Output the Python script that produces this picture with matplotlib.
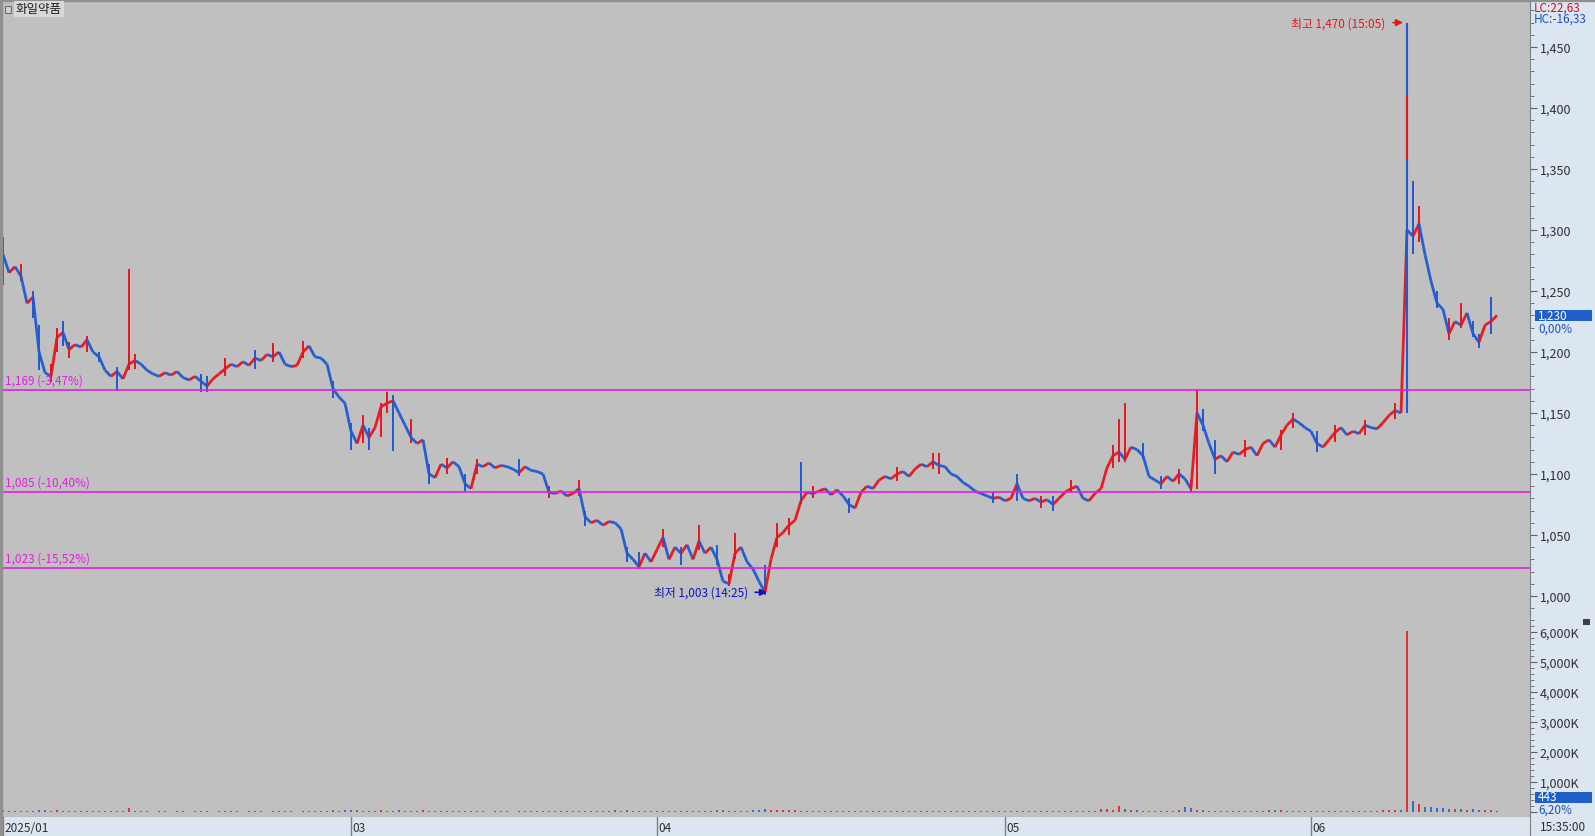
import numpy as np
import matplotlib.pyplot as plt
from matplotlib.collections import LineCollection
from matplotlib.ticker import FuncFormatter, MultipleLocator

plt.rcParams['font.family'] = ['Noto Sans CJK KR', 'DejaVu Sans']

# closing prices, one point per ~6px of the chart
close = [
    # Jan-Feb
    1280, 1265, 1270, 1262, 1240, 1245, 1200, 1183, 1180, 1212,
    1216, 1202, 1206, 1204, 1210, 1200, 1196, 1185, 1180, 1184,
    1178, 1190, 1193, 1190, 1185, 1182, 1180, 1183, 1181, 1184,
    1179, 1177, 1180, 1176, 1172, 1178, 1182, 1186, 1190, 1188,
    1192, 1189, 1195, 1193, 1198, 1196, 1200, 1190, 1188, 1189,
    1200, 1205, 1196, 1195, 1190, 1170, 1163, 1158,
    # Mar
    1135, 1125, 1140, 1130, 1138, 1155, 1158, 1160, 1150, 1140,
    1130, 1125, 1128, 1100, 1097, 1108, 1105, 1110, 1106, 1092,
    1088, 1108, 1106, 1109, 1105, 1107, 1106, 1104, 1101, 1106,
    1103, 1102, 1100, 1085, 1084, 1086, 1082, 1084, 1088, 1065,
    1060, 1062, 1058, 1061, 1060, 1055, 1035, 1030, 1024, 1035,
    1028,
    # Apr
    1038, 1048, 1030, 1040, 1035, 1042, 1030, 1045, 1035, 1040,
    1030, 1012, 1010, 1035, 1040, 1028, 1022, 1012, 1003, 1030,
    1048, 1052, 1058, 1062, 1078, 1085, 1084, 1086, 1088, 1083,
    1087, 1082, 1075, 1072, 1085, 1090, 1088, 1095, 1098, 1096,
    1100, 1102, 1098, 1104, 1108, 1106, 1110, 1107, 1106, 1100,
    1098, 1093, 1090, 1086, 1084, 1082, 1080, 1081, 1078,
    # May
    1080, 1092, 1080, 1078, 1080, 1077, 1079, 1075, 1080, 1085,
    1088, 1090, 1080, 1078, 1084, 1088, 1105, 1115, 1118, 1112,
    1122, 1120, 1115, 1098, 1095, 1092, 1098, 1094, 1100, 1096,
    1088, 1150, 1140, 1125, 1112, 1115, 1110, 1118, 1116, 1120,
    1122, 1115, 1125, 1128, 1122, 1132, 1140, 1145, 1142, 1138,
    # Jun
    1135, 1125, 1122, 1128, 1134, 1138, 1132, 1135, 1133, 1140,
    1138, 1137, 1142, 1148, 1152, 1150, 1300, 1295, 1305, 1280,
    1258, 1240, 1235, 1215, 1225, 1222, 1232, 1215, 1208, 1222,
    1225, 1230,
]

# volume in thousands of shares
volume = [
    60, 40, 35, 30, 45, 25, 70, 55, 40, 50,
    35, 30, 25, 20, 30, 25, 20, 40, 35, 20,
    25, 120, 40, 25, 20, 15, 20, 25, 15, 20,
    20, 15, 25, 30, 20, 15, 20, 25, 30, 20,
    15, 20, 25, 20, 15, 30, 20, 25, 20, 15,
    25, 35, 20, 25, 30, 60, 45, 50,
    70, 60, 45, 40, 35, 50, 40, 45, 55, 40,
    35, 30, 60, 40, 25, 20, 25, 20, 35, 30,
    25, 20, 20, 15, 20, 25, 20, 15, 20, 25,
    20, 40, 30, 25, 20, 25, 30, 45, 35, 30,
    25, 25, 20, 30, 55, 45, 50, 40, 35, 45,
    40,
    40, 45, 35, 40, 35, 45, 40, 35, 40, 35,
    60, 55, 45, 40, 35, 40, 60, 80, 90, 70,
    65, 55, 50, 60, 45, 35, 30, 25, 30, 35,
    30, 45, 35, 30, 25, 30, 25, 30, 25, 20,
    30, 25, 20, 35, 25, 30, 25, 20, 25, 30,
    25, 20, 25, 30, 20, 25, 20, 25, 30,
    25, 45, 30, 25, 20, 25, 30, 25, 30, 35,
    40, 30, 25, 35, 40, 90, 110, 80, 200, 90,
    60, 50, 40, 35, 40, 35, 30, 45, 60, 150,
    120, 80, 60, 45, 40, 35, 40, 45, 35, 40,
    45, 40, 35, 50, 55, 60, 45, 40, 35, 30,
    35, 40, 35, 30, 35, 40, 35, 30, 35, 40,
    35, 45, 50, 55, 60, 70,
    6050, 350, 250, 180, 150, 120, 140, 110, 90, 100,
    80, 90, 70, 60, 55, 40,
]

# wicks: bar index, high, low, up(1)/down(0)
wick_idx = [0, 3, 5, 6, 8, 9, 10, 11, 14, 16, 19, 21, 22, 33, 34, 37, 42, 45, 50, 55,
            58, 60, 61, 63, 64, 65, 68, 71, 74, 77, 79, 86, 91, 96, 97, 104, 106,
            110, 113, 116, 119, 121, 122, 127, 129, 131, 133, 135, 141, 149, 155, 156, 165,
            169, 173, 175, 178, 185, 186, 187, 190, 193, 196, 198, 199, 200, 202, 207, 213, 215,
            219, 222, 227, 232, 235, 236, 239, 241, 243, 245, 246, 248]
wick_hi = [1294, 1272, 1250, 1222, 1190, 1220, 1225, 1208, 1213, 1200, 1188, 1268, 1198, 1182, 1180, 1195, 1202, 1207, 1209, 1176,
           1142, 1148, 1138, 1158, 1167, 1165, 1145, 1108, 1113, 1100, 1112, 1112, 1090, 1095, 1070, 1040, 1036,
           1055, 1040, 1058, 1042, 1018, 1052, 1025, 1060, 1064, 1110, 1090, 1080, 1106, 1117, 1117, 1085,
           1100, 1082, 1082, 1095, 1124, 1145, 1158, 1125, 1098, 1104, 1095, 1170, 1153, 1128, 1128, 1136, 1150,
           1135, 1140, 1144, 1158, 1340, 1320, 1250, 1228, 1240, 1225, 1215, 1245]
wick_lo = [1255, 1258, 1228, 1185, 1175, 1200, 1205, 1195, 1200, 1192, 1168, 1185, 1186, 1167, 1167, 1180, 1186, 1192, 1195, 1162,
           1120, 1125, 1120, 1130, 1150, 1119, 1125, 1092, 1100, 1085, 1100, 1098, 1080, 1082, 1057, 1028, 1022,
           1040, 1025, 1038, 1025, 1008, 1030, 1001, 1040, 1050, 1075, 1080, 1068, 1094, 1104, 1100, 1076,
           1078, 1072, 1070, 1085, 1105, 1110, 1110, 1112, 1088, 1092, 1085, 1088, 1135, 1100, 1114, 1120, 1138,
           1118, 1126, 1132, 1145, 1280, 1290, 1236, 1210, 1220, 1212, 1203, 1215]
wick_up = [0, 1, 0, 0, 1, 1, 0, 1, 1, 0, 0, 1, 1, 0, 0, 1, 0, 1, 1, 0,
           0, 1, 0, 1, 1, 0, 1, 0, 1, 0, 1, 0, 1, 1, 0, 0, 0,
           1, 0, 1, 0, 1, 1, 0, 1, 1, 0, 1, 0, 1, 1, 1, 0,
           0, 1, 0, 1, 1, 1, 1, 0, 0, 1, 1, 1, 0, 0, 1, 1, 1,
           0, 1, 1, 1, 0, 1, 0, 1, 1, 0, 0, 0]

# the big upper-limit bar
spike_idx = 234
spike_hi, spike_lo = 1470, 1150
spike_body = (1358, 1410)

level_prices = [1169, 1085, 1023]
level_labels = ['1,169 (-3,47%)', '1,085 (-10,40%)', '1,023 (-15,52%)']

month_idx = [0, 58, 109, 167, 218]
month_labels = ['2025/01', '03', '04', '05', '06']

RED = '#E8141C'
BLUE = '#1F5AD2'
MAG = '#E020E0'
GRAYBG = '#C0C0C0'
PANEL = '#DCE6F1'
TXT = '#303030'

W, H = 1595, 837
fig = plt.figure(figsize=(W / 100, H / 100), dpi=100, facecolor=PANEL)

ax = fig.add_axes([2 / W, 1 - 616 / H, 1528 / W, 614 / H], facecolor=GRAYBG)
axv = fig.add_axes([2 / W, 1 - 818 / H, 1528 / W, 202 / H], facecolor=GRAYBG)
axd = fig.add_axes([2 / W, 0, 1528 / W, 19 / H], facecolor=PANEL)

# left / top borders
fig.patches.append(plt.Rectangle((0, 0), 2 / W, 1, transform=fig.transFigure, color='#909090'))
fig.patches.append(plt.Rectangle((0, 1 - 2 / H), 1, 2 / H, transform=fig.transFigure, color='#909090'))

x = np.arange(len(close))
c = np.array(close)
xlim = (-0.17, 254.5)

# price line coloured by direction
segs = [[(x[i - 1], c[i - 1]), (x[i], c[i])] for i in range(1, len(c))]
cols = [RED if c[i] >= c[i - 1] else BLUE for i in range(1, len(c))]

for i, hi, lo, up in zip(wick_idx, wick_hi, wick_lo, wick_up):
    ax.vlines(i, lo, hi, color=RED if up else BLUE, lw=1.4)
ax.add_collection(LineCollection(segs, colors=cols, linewidths=2.0, alpha=0.95))
ax.vlines(spike_idx, spike_lo, spike_hi, color=BLUE, lw=1.5)
ax.vlines(spike_idx, spike_body[0], spike_body[1], color=RED, lw=1.5)

for p, lab in zip(level_prices, level_labels):
    ax.axhline(p, color=MAG, lw=1.2)
    ax.text(0.3, p + 3, lab, color=MAG, fontsize=8.5, va='bottom', ha='left')

ax.set_xlim(*xlim)
ax.set_ylim(984.4, 1487.7)
ax.yaxis.tick_right()
ax.yaxis.set_major_locator(MultipleLocator(50))
ax.yaxis.set_minor_locator(MultipleLocator(10))
ax.yaxis.set_major_formatter(FuncFormatter(lambda v, _: f'{int(v):,}'))
ax.tick_params(axis='y', which='major', direction='out', length=5, labelsize=9,
               colors='#606060', labelcolor=TXT, pad=2)
ax.tick_params(axis='y', which='minor', direction='out', length=3, colors='#606060')
ax.set_xticks([])
for s in ['left', 'top']:
    ax.spines[s].set_visible(False)
ax.spines['right'].set_color('#808080')
ax.spines['bottom'].set_color('#808080')

# high / low annotations
ax.annotate('', xy=(spike_idx - 0.2, spike_hi), xytext=(231.2, spike_hi),
            arrowprops=dict(arrowstyle='-|>', color=RED, lw=1.2, mutation_scale=10))
ax.text(230.3, spike_hi, '최고 1,470 (15:05)', color=RED, fontsize=8.5, ha='right', va='center')
ax.annotate('', xy=(127.8, 1003), xytext=(124.9, 1003),
            arrowprops=dict(arrowstyle='-|>', color='#1010C0', lw=1.2, mutation_scale=10))
ax.text(124.2, 1003, '최저 1,003 (14:25)', color='#1010C0', fontsize=8.5, ha='right', va='center')

# title box
fig.text(16 / W, 1 - 10 / H, '화일약품', fontsize=9, color='#202020', va='center', ha='left',
         bbox=dict(boxstyle='square,pad=0.15', fc='#D8D8D8', ec='none'))
fig.patches.append(plt.Rectangle((5 / W, 1 - 14 / H), 6 / W, 7 / H, transform=fig.transFigure,
                                 fc='#D0D0D0', ec='#707070', lw=0.8))

# right side labels
fig.text(1534 / W, 1 - 8 / H, 'LC:22,63', color='#D01020', fontsize=8.5, va='center')
fig.text(1534 / W, 1 - 19 / H, 'HC:-16,33', color='#2050C0', fontsize=8.5, va='center')
fig.patches.append(plt.Rectangle((1535 / W, 1 - 322 / H), 57 / W, 11 / H, transform=fig.transFigure,
                                 fc='#1F5FC8', ec='none', zorder=0))
fig.text(1538 / W, 1 - 316 / H, '1,230', color='white', fontsize=8.5, va='center')
fig.text(1538 / W, 1 - 329 / H, '0,00%', color='#2050C0', fontsize=8.5, va='center')

# volume panel
v = np.array(volume)
vcols = [RED] + [RED if c[i] >= c[i - 1] else BLUE for i in range(1, len(c))]
axv.vlines(x, 0, v, colors=vcols, lw=1.2)
axv.set_xlim(*xlim)
axv.set_ylim(-167, 6567)
axv.yaxis.tick_right()
axv.yaxis.set_major_locator(MultipleLocator(1000))
axv.yaxis.set_minor_locator(MultipleLocator(200))
axv.yaxis.set_major_formatter(FuncFormatter(lambda val, _: f'{int(val / 1000):,},000K' if val > 0 else ''))
axv.tick_params(axis='y', which='major', direction='out', length=5, labelsize=9,
                colors='#606060', labelcolor=TXT, pad=2)
axv.tick_params(axis='y', which='minor', direction='out', length=3, colors='#606060')
axv.set_xticks([])
for s in ['left', 'top']:
    axv.spines[s].set_visible(False)
axv.spines['right'].set_color('#808080')
axv.spines['bottom'].set_color('#808080')

fig.patches.append(plt.Rectangle((1535 / W, 1 - 804 / H), 57 / W, 11 / H, transform=fig.transFigure,
                                 fc='#1F5FC8', ec='none', zorder=0))
fig.text(1538 / W, 1 - 798 / H, '443', color='white', fontsize=8.5, va='center')
fig.text(1538 / W, 1 - 810 / H, '6,20%', color='#2050C0', fontsize=8.5, va='center')
fig.patches.append(plt.Rectangle((1583 / W, 1 - 626 / H), 7 / W, 6 / H, transform=fig.transFigure,
                                 fc='#404040', ec='none'))

# date strip
axd.set_xlim(*xlim)
axd.set_ylim(0, 1)
axd.set_xticks([])
axd.set_yticks([])
for i, lab in zip(month_idx, month_labels):
    axd.axvline(i, color='#808080', lw=1)
    axd.text(i + 0.2, 0.45, lab, fontsize=8.5, color=TXT, va='center', ha='left')
for s in ['left', 'top', 'bottom']:
    axd.spines[s].set_visible(False)
axd.spines['right'].set_color('#808080')
fig.text(1540 / W, 9 / H, '15:35:00', fontsize=8.5, color=TXT, va='center')

fig.savefig('out.png', dpi=100, facecolor=fig.get_facecolor())
